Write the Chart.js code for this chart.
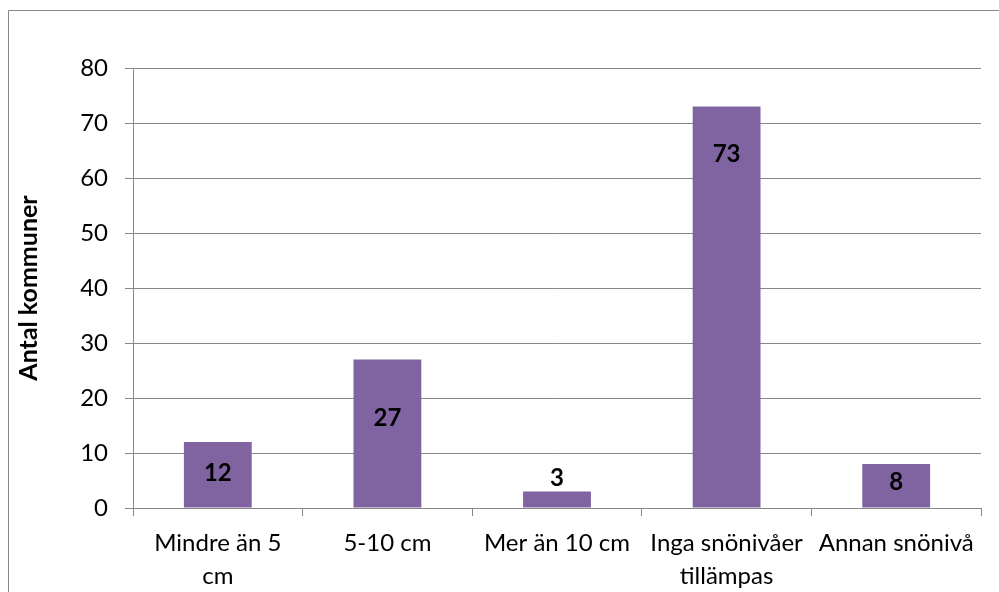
<!DOCTYPE html>
<html>
<head>
<meta charset="utf-8">
<script src="https://cdn.jsdelivr.net/npm/chart.js@4/dist/chart.umd.min.js"></script>
<style>
  html, body { margin: 0; padding: 0; background: #fff; }
  #wrap { width: 999px; height: 592px; position: relative; }
</style>
</head>
<body>
<div id="wrap"><canvas id="chart"></canvas></div>
<script>
const categories = [['Mindre än 5', 'cm'], '5-10 cm', 'Mer än 10 cm', ['Inga snönivåer', 'tillämpas'], 'Annan snönivå'];
const counts = [12, 27, 3, 73, 8];
// where each value label sits, in axis units (placed by hand in the original)
const labelAt = [6.3, 16.4, 5.4, 64.4, 4.6];
const yTicks = [0, 10, 20, 30, 40, 50, 60, 70, 80];

const FONT = 'Lato, Carlito, Calibri, sans-serif';
const GRID = '#878787';

const frame = {
  id: 'frame',
  beforeDraw(chart) {
    const c = chart.ctx;
    c.save();
    c.strokeStyle = GRID;
    c.lineWidth = 1;
    c.beginPath();
    c.moveTo(8.5, chart.height);
    c.lineTo(8.5, 10.5);
    c.lineTo(chart.width, 10.5);
    c.stroke();
    c.restore();
  },
};

const valueLabels = {
  id: 'valueLabels',
  afterDatasetsDraw(chart) {
    const c = chart.ctx;
    const y = chart.scales.y;
    const meta = chart.getDatasetMeta(0);
    c.save();
    c.font = `bold 24px ${FONT}`;
    c.fillStyle = '#000';
    c.textAlign = 'center';
    c.textBaseline = 'middle';
    meta.data.forEach((bar, i) => {
      c.fillText(String(counts[i]), bar.x, y.getPixelForValue(labelAt[i]));
    });
    c.restore();
  },
};

new Chart(document.getElementById('chart'), {
  type: 'bar',
  data: {
    labels: categories,
    datasets: [{
      data: counts,
      backgroundColor: '#8064A2',
      barPercentage: 0.4,
      categoryPercentage: 1,
    }],
  },
  options: {
    responsive: true,
    maintainAspectRatio: false,
    animation: false,
    layout: { padding: { top: 68, right: 18, left: 0, bottom: 0 } },
    plugins: {
      legend: { display: false },
      tooltip: { enabled: false },
    },
    scales: {
      x: {
        afterFit: (scale) => { scale.height = 84; },
        grid: {
          offset: true,
          drawOnChartArea: false,
          drawTicks: true,
          tickLength: 8,
          color: GRID,
        },
        border: { color: GRID },
        ticks: {
          color: '#000',
          font: { family: FONT, size: 24, lineHeight: 1.4 },
          padding: 10,
          maxRotation: 0,
          autoSkip: false,
        },
      },
      y: {
        min: 0,
        max: 80,
        afterFit: (scale) => { scale.width = 133; },
        afterBuildTicks: (scale) => { scale.ticks = yTicks.map((v) => ({ value: v })); },
        grid: { color: GRID, tickLength: 8 },
        border: { color: GRID },
        ticks: {
          color: '#000',
          font: { family: FONT, size: 24 },
          padding: 17,
        },
        title: {
          display: true,
          text: 'Antal kommuner',
          color: '#000',
          font: { family: FONT, size: 25, weight: 'bold' },
          padding: { top: 14, bottom: 0 },
        },
      },
    },
  },
  plugins: [frame, valueLabels],
});
</script>
</body>
</html>
